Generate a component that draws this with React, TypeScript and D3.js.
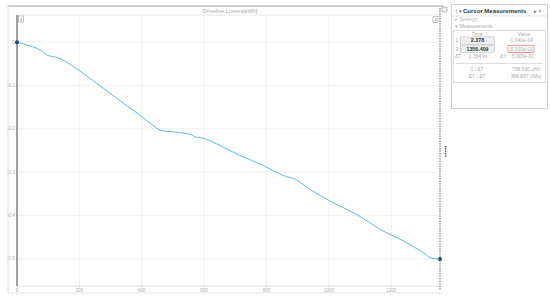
import React from "react";
import * as d3 from "d3";

// Data
const timeS = [0, 42, 74, 100, 127, 192, 276, 340, 404, 427, 464, 513, 561, 571, 598, 641, 705, 791, 855, 893, 940, 1005, 1090, 1165, 1240, 1304, 1331, 1356.409];
const lossKWh = [-0.0001, -0.009, -0.018, -0.031, -0.035, -0.062, -0.106, -0.14, -0.174, -0.187, -0.204, -0.208, -0.214, -0.219, -0.222, -0.235, -0.258, -0.285, -0.308, -0.317, -0.34, -0.367, -0.398, -0.432, -0.459, -0.486, -0.499, -0.5];
const xTicks = [0, 200, 400, 600, 800, 1000, 1200];
const yTicks = [0, -0.1, -0.2, -0.3, -0.4, -0.5];

const measureRows = [
  { label: "1 |", time: "2.378", value: "-1.040e-04", boxed: false },
  { label: "2 |", time: "1356.409", value: "-5.000e-01", boxed: true },
];
const deltaRow = { dt: "1.354 ks", dy: "5.000e-01" };
const rateRows = [
  { label: "1 / \u0394T", value: "738.536 \u03bcHz" },
  { label: "\u0394Y / \u0394T", value: "369.837 (/Ms)" },
];

export default function App() {
  const width = 550;
  const height = 299;
  const left = 17, right = 440, top = 15, bottom = 286;

  const x = d3.scaleLinear().domain([0, 1356.409]).range([left, right]);
  const y = d3.scaleLinear().domain([-0.5625, 0.0625]).range([bottom, top]);

  const pts: [number, number][] = timeS.map((t, i) => [t, lossKWh[i]]);
  const line = d3.line<[number, number]>()
    .x(d => x(d[0]))
    .y(d => y(d[1]))
    .curve(d3.curveMonotoneX);

  const font = "Liberation Sans, Arial, sans-serif";
  const first = pts[0];
  const last = pts[pts.length - 1];

  return (
    <svg width={width} height={height} style={{ position: "absolute", left: 0, top: 0, background: "#fff" }} fontFamily={font}>
      {/* outer frame */}
      <line x1={8} x2={443} y1={6} y2={6} stroke="#cfcfcf" strokeWidth={2} />
      <line x1={8} x2={8} y1={6} y2={293} stroke="#dcdcdc" strokeWidth={1} />
      <line x1={8} x2={443} y1={293} y2={293} stroke="#e4e4e4" strokeWidth={1} />
      <rect x={442} y={7} width={5} height={5} fill="#eee" stroke="#999" strokeWidth={0.6} />

      <text x={230} y={12.5} fontSize={5.5} fill="#aaa" textAnchor="middle">Driveline Losses[kWh]</text>

      {/* grid */}
      <line x1={left} x2={right} y1={top} y2={top} stroke="#e8e8e8" />
      {xTicks.map(t => (
        <line key={"gx" + t} x1={x(t)} x2={x(t)} y1={top} y2={bottom} stroke="#ececec" strokeWidth={0.8} />
      ))}
      {yTicks.map(t => (
        <line key={"gy" + t} x1={left} x2={right} y1={y(t)} y2={y(t)} stroke="#ececec" strokeWidth={0.8} />
      ))}
      <line x1={left} x2={right} y1={bottom} y2={bottom} stroke="#dedede" strokeWidth={1} />

      {/* tick labels */}
      {xTicks.map(t => (
        <g key={"tx" + t}>
          <line x1={x(t)} x2={x(t)} y1={bottom} y2={bottom + 2} stroke="#ccc" strokeWidth={0.6} />
          <text x={x(t)} y={292} fontSize={4.5} fill="#aaa" textAnchor="middle">{t}</text>
        </g>
      ))}
      {yTicks.map(t => (
        <text key={"ty" + t} x={left - 2} y={y(t) + 1.5} fontSize={4.5} fill="#aaa" textAnchor="end">{t === 0 ? "0" : t.toFixed(1)}</text>
      ))}

      {/* series */}
      <path d={line(pts) ?? ""} fill="none" stroke="#5bb8e6" strokeWidth={1} />

      {/* cursor 1 */}
      <line x1={x(first[0])} x2={x(first[0])} y1={top} y2={bottom} stroke="#a0a0a0" strokeWidth={2} />
      <rect x={x(first[0]) + 1.5} y={16} width={5} height={6} fill="#fff" stroke="#999" strokeWidth={0.6} />
      <text x={x(first[0]) + 4} y={20.8} fontSize={4} fill="#666" textAnchor="middle">1</text>
      <circle cx={x(first[0])} cy={y(first[1])} r={2} fill="#1d4f7c" />

      {/* cursor 2 */}
      <line x1={x(last[0])} x2={x(last[0])} y1={8} y2={bottom + 4} stroke="#9a9a9a" strokeWidth={1.5} strokeDasharray="1.5,1" />
      <rect x={x(last[0]) - 7} y={16.5} width={5} height={6} fill="#fff" stroke="#999" strokeWidth={0.6} />
      <text x={x(last[0]) - 4.5} y={21.3} fontSize={4} fill="#666" textAnchor="middle">2</text>
      <circle cx={x(last[0])} cy={y(last[1])} r={2} fill="#1d4f7c" />

      {/* splitter grip */}
      {[0, 1, 2, 3, 4].map(i => (
        <rect key={"grip" + i} x={445} y={146 + i * 2.3} width={1.4} height={1.4} fill="#555" />
      ))}

      {/* cursor measurements panel */}
      <rect x={451.5} y={4.5} width={96} height={104} fill="#fff" stroke="#d0d0d0" strokeWidth={1} />
      <line x1={452} x2={547} y1={16} y2={16} stroke="#e3e3e3" />
      <text x={455} y={13} fontSize={5} fill="#555">{"\u2195"}</text>
      <text x={459} y={13} fontSize={4.5} fill="#555">{"\u25be"}</text>
      <text x={463} y={13} fontSize={6} fill="#333" fontWeight="bold">Cursor Measurements</text>
      <text x={534} y={13} fontSize={5} fill="#666">{"\u25b8 \u00d7"}</text>
      <text x={455} y={21} fontSize={5} fill="#bbb">{"\u25b8 Settings"}</text>
      <text x={455} y={28} fontSize={5} fill="#aaa">{"\u25be Measurements"}</text>

      <rect x={453.5} y={30.5} width={92} height={52} fill="#fff" stroke="#dcdcdc" />
      <text x={477} y={35.5} fontSize={5} fill="#aaa" textAnchor="middle">Time</text>
      <text x={524} y={35.5} fontSize={5} fill="#aaa" textAnchor="middle">Value</text>
      {measureRows.map((r, i) => {
        const ry = 40.5 + i * 8.2;
        return (
          <g key={"mr" + i}>
            <text x={455.5} y={ry + 1.8} fontSize={5} fill="#999">{r.label}</text>
            <rect x={460.5} y={ry - 3.6} width={34} height={7.4} fill="#eeeeee" stroke="#c4c4c4" strokeWidth={0.6} />
            <text x={477.5} y={ry + 1.8} fontSize={5.3} fill="#333" fontWeight="bold" textAnchor="middle">{r.time}</text>
            {r.boxed && <rect x={508} y={ry - 3.4} width={26} height={7} fill="none" stroke="#ff6b6b" strokeWidth={0.7} />}
            <text x={521} y={ry + 1.8} fontSize={5} fill="#aaa" textAnchor="middle">{r.value}</text>
          </g>
        );
      })}
      <text x={455} y={58} fontSize={5} fill="#aaa">{"\u0394T"}</text>
      <text x={478} y={58} fontSize={5} fill="#aaa" textAnchor="middle">{deltaRow.dt}</text>
      <text x={500} y={58} fontSize={5} fill="#aaa">{"\u0394Y"}</text>
      <text x={523} y={58} fontSize={5} fill="#aaa" textAnchor="middle">{deltaRow.dy}</text>
      <line x1={456} x2={543} y1={63.5} y2={63.5} stroke="#dcdcdc" />
      {rateRows.map((r, i) => (
        <g key={"rr" + i}>
          <text x={477} y={70.5 + i * 7} fontSize={5} fill="#aaa" textAnchor="middle">{r.label}</text>
          <text x={526} y={70.5 + i * 7} fontSize={5} fill="#aaa" textAnchor="middle">{r.value}</text>
        </g>
      ))}
    </svg>
  );
}
